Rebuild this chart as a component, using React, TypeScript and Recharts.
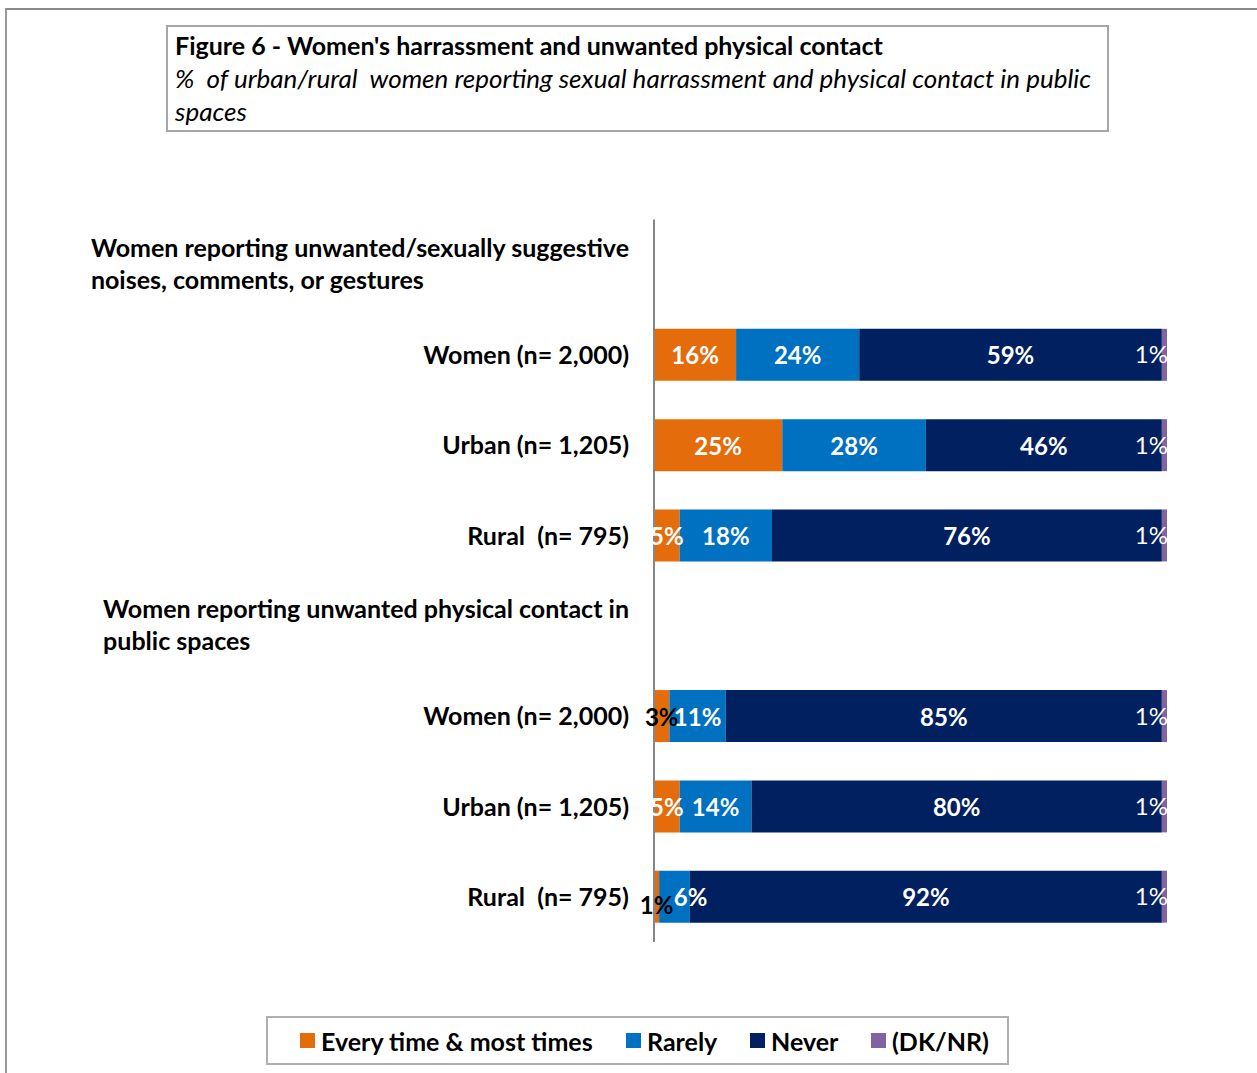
import React, { useLayoutEffect, useRef, useState } from "react";
import { BarChart, Bar, XAxis, YAxis, LabelList } from "recharts";

const categories = [
  "Women reporting unwanted/sexually suggestive|noises, comments, or gestures",
  "Women (n= 2,000)",
  "Urban (n= 1,205)",
  "Rural  (n= 795)",
  "Women reporting unwanted physical contact in|public spaces",
  "Women (n= 2,000)",
  "Urban (n= 1,205)",
  "Rural  (n= 795)",
];
const seriesNames = ["Every time & most times", "Rarely", "Never", "(DK/NR)"];
const everyTime = [null, 16, 25, 5, null, 3, 5, 1];
const rarely = [null, 24, 28, 18, null, 11, 14, 6];
const never = [null, 59, 46, 76, null, 85, 80, 92];
const dknr = [null, 1, 1, 1, null, 1, 1, 1];

const COLORS = ["#E46C0A", "#0070C0", "#002060", "#8064A2"];
const KEYS = ["everyTime", "rarely", "never", "dknr"];
const FONT = "Lato, 'Open Sans', sans-serif";
const FS = 25;

const data = categories.map((c, i) => ({
  key: String(i),
  everyTime: everyTime[i],
  rarely: rarely[i],
  never: never[i],
  dknr: dknr[i],
}));

function HeaderLabel({ x, y, lines }: { x: number; y: number; lines: string[] }) {
  const ref = useRef<SVGTextElement>(null);
  const [left, setLeft] = useState<number | null>(null);
  useLayoutEffect(() => {
    if (ref.current) setLeft(ref.current.getBBox().x);
  }, [x]);
  return (
    <g>
      <text ref={ref} x={x} y={y - 18} textAnchor="end" dominantBaseline="central" fontFamily={FONT} fontWeight={700} fontSize={FS} fill="#000">
        {lines[0]}
      </text>
      {left !== null && (
        <text x={left} y={y + 14} textAnchor="start" dominantBaseline="central" fontFamily={FONT} fontWeight={700} fontSize={FS} fill="#000">
          {lines[1]}
        </text>
      )}
    </g>
  );
}

function CatTick(props: any) {
  const { x, y, payload } = props;
  const label = categories[Number(payload.value)];
  if (label.includes("|")) {
    return <HeaderLabel x={x} y={y} lines={label.split("|")} />;
  }
  return (
    <text x={x} y={y - 1} textAnchor="end" dominantBaseline="central" fontFamily={FONT} fontWeight={700} fontSize={FS} fill="#000" style={{ whiteSpace: "pre" }}>
      {label}
    </text>
  );
}

const mainLabel = (props: any) => {
  const { x, y, width, height, value } = props;
  if (value === null || value === undefined) return null;
  const dark = value < 5;
  const dy = value <= 1 ? 8 : 0;
  const dx = width < 40 && value > 5 ? 16 : 0;
  return (
    <text x={x + width / 2 + dx} y={y + height / 2 + dy} textAnchor="middle" dominantBaseline="central" fontFamily={FONT} fontWeight={700} fontSize={24} fill={dark ? "#000" : "#fff"}>
      {value}%
    </text>
  );
};

const dkLabel = (props: any) => {
  const { x, y, width, height, value } = props;
  if (value === null || value === undefined) return null;
  return (
    <text x={x + width / 2 - 13} y={y + height / 2 - 1} textAnchor="middle" dominantBaseline="central" fontFamily={FONT} fontWeight={400} fontSize={24} fill="#fff">
      {value}%
    </text>
  );
};

export default function App() {
  return (
    <div style={{ position: "absolute", left: 0, top: 0, width: 1257, height: 1073, background: "#fff", overflow: "hidden", fontFamily: FONT }}>
      <div style={{ position: "absolute", left: 5, top: 8, width: 1300, height: 1100, borderLeft: "2px solid #999", borderTop: "2px solid #8a8a8a" }} />
      <div style={{ position: "absolute", left: 166, top: 25, width: 939, height: 103, border: "2px solid #a6a6a6", boxSizing: "content-box" }}>
        <div style={{ position: "absolute", left: 7, top: 2, fontSize: FS, fontWeight: 700, lineHeight: "33px", color: "#000", whiteSpace: "nowrap" }}>
          Figure 6 - Women's harrassment and unwanted physical contact
        </div>
        <div style={{ position: "absolute", left: 7, top: 35, width: 930, fontSize: 26, fontStyle: "italic", lineHeight: "33px", color: "#000", whiteSpace: "pre-wrap" }}>
          {"%  of urban/rural  women reporting sexual harrassment and physical contact in public spaces"}
        </div>
      </div>
      <div style={{ position: "absolute", left: 0, top: 0 }}>
        <BarChart width={1257} height={1073} data={data} layout="vertical" barSize={52} margin={{ top: 219.5, right: 90, bottom: 131, left: 0 }}>
          <XAxis type="number" domain={[0, 100]} hide />
          <YAxis
            type="category"
            dataKey="key"
            width={654}
            axisLine={{ stroke: "#868686", strokeWidth: 2 }}
            tickLine={false}
            tickSize={0}
            tickMargin={25}
            tick={(p: any) => <CatTick {...p} />}
            interval={0}
          />
          {KEYS.map((k, i) => (
            <Bar key={k} dataKey={k} name={seriesNames[i]} stackId="a" fill={COLORS[i]} isAnimationActive={false}>
              <LabelList dataKey={k} content={i === 3 ? dkLabel : mainLabel} />
            </Bar>
          ))}
        </BarChart>
      </div>
      <div style={{ position: "absolute", left: 266, top: 1016, width: 739, height: 45, border: "2px solid #b0b0b0", boxSizing: "content-box" }}>
        {seriesNames.map((n, i) => (
          <div key={n} style={{ position: "absolute", left: [32, 358, 482, 603][i], top: 0, height: 45, display: "flex", alignItems: "center", whiteSpace: "nowrap" }}>
            <span style={{ display: "inline-block", width: 15, height: 15, background: COLORS[i], marginRight: 6 }} />
            <span style={{ fontSize: FS, fontWeight: 700, color: "#000" }}>{n}</span>
          </div>
        ))}
      </div>
    </div>
  );
}
